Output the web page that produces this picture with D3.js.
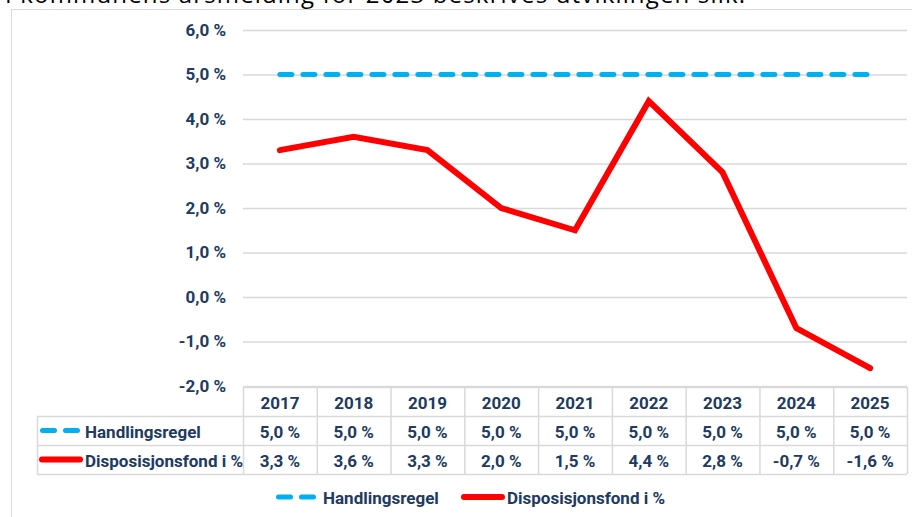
<!DOCTYPE html>
<html>
<head>
<meta charset="utf-8">
<script src="https://cdn.jsdelivr.net/npm/d3@7"></script>
<style>
  body { margin: 0; background: #fff; }
  svg { display: block; }
</style>
</head>
<body>
<div id="chart"></div>
<script>
// data
const years = ['2017', '2018', '2019', '2020', '2021', '2022', '2023', '2024', '2025'];
const handlingsregel = [5.0, 5.0, 5.0, 5.0, 5.0, 5.0, 5.0, 5.0, 5.0];
const disposisjonsfond = [3.3, 3.6, 3.3, 2.0, 1.5, 4.4, 2.8, -0.7, -1.6];
const yTicks = [-2, -1, 0, 1, 2, 3, 4, 5, 6];
const seriesNames = ['Handlingsregel', 'Disposisjonsfond i %'];

const W = 912, H = 517;
const navy = '#203a62';
const grid = '#d9d9d9';
const blue = '#00b0f0';
const red = '#ff0000';
const font = 'Roboto, sans-serif';
const fontSize = 17;

// "5,0 %" style, with a plain hyphen for negatives
const fmt = (v) => d3.format('.1f')(v).replace('.', ',').replace('\u2212', '-') + ' %';

const svg = d3.select('#chart').append('svg').attr('width', W).attr('height', H);

// cropped paragraph above the chart
svg.append('text')
  .attr('x', 5).attr('y', 3)
  .attr('font-family', '"Open Sans", sans-serif')
  .attr('font-size', 24)
  .attr('fill', '#000')
  .attr('textLength', 740)
  .text('I kommunens årsmelding for 2023 beskrives utviklingen slik:');

// chart frame
svg.append('rect')
  .attr('x', 11.5).attr('y', 9.5)
  .attr('width', 920).attr('height', 540)
  .attr('fill', 'none').attr('stroke', grid);

const x = d3.scaleBand().domain(years).range([243, 907]).padding(0);
const y = d3.scaleLinear().domain([-2, 6]).range([386, 30]);
const cx = (d) => x(d) + x.bandwidth() / 2;

// y axis with gridlines
const yAxis = d3.axisLeft(y)
  .tickValues(yTicks)
  .tickFormat(fmt)
  .tickSizeInner(-(907 - 243))
  .tickSizeOuter(0)
  .tickPadding(17);

const yAxisGroup = svg.append('g')
  .attr('transform', 'translate(243,0)')
  .call(yAxis);
yAxisGroup.select('.domain').remove();
yAxisGroup.selectAll('.tick line').attr('stroke', grid).attr('stroke-width', 1.5);
yAxisGroup.selectAll('.tick text')
  .attr('fill', navy)
  .attr('font-family', font)
  .attr('font-weight', 'bold')
  .attr('font-size', fontSize);

// lines
const line = (vals) => d3.line()
  .x((d, i) => cx(years[i]))
  .y((d) => y(d))(vals);

svg.append('path')
  .attr('d', line(handlingsregel))
  .attr('fill', 'none')
  .attr('stroke', blue)
  .attr('stroke-width', 5)
  .attr('stroke-linecap', 'round')
  .attr('stroke-dasharray', '12,11');

svg.append('path')
  .attr('d', line(disposisjonsfond))
  .attr('fill', 'none')
  .attr('stroke', red)
  .attr('stroke-width', 6)
  .attr('stroke-linejoin', 'miter')
  .attr('stroke-linecap', 'round');

// data table
const rowTop = [387, 416, 445];
const rowH = 29;
const tableLeft = 37;
const table = svg.append('g');

// horizontal borders
table.append('line').attr('x1', 243).attr('x2', 907).attr('y1', rowTop[0] + 0.5).attr('y2', rowTop[0] + 0.5);
[rowTop[1], rowTop[2], rowTop[2] + rowH].forEach((yy) => {
  table.append('line').attr('x1', tableLeft).attr('x2', 907).attr('y1', yy + 0.5).attr('y2', yy + 0.5);
});
// vertical borders
table.append('line').attr('x1', tableLeft + 0.5).attr('x2', tableLeft + 0.5).attr('y1', rowTop[1]).attr('y2', rowTop[2] + rowH);
years.concat(['end']).forEach((yr) => {
  const xx = yr === 'end' ? 907 : x(yr);
  table.append('line').attr('x1', xx + 0.5).attr('x2', xx + 0.5).attr('y1', rowTop[0]).attr('y2', rowTop[2] + rowH);
});
table.selectAll('line').attr('stroke', grid).attr('stroke-width', 1.5);

const cellText = (g, tx, ty, txt, anchor) => g.append('text')
  .attr('x', tx).attr('y', ty)
  .attr('text-anchor', anchor || 'middle')
  .attr('dominant-baseline', 'central')
  .attr('fill', navy)
  .attr('font-family', font)
  .attr('font-weight', 'bold')
  .attr('font-size', fontSize)
  .text(txt);

years.forEach((yr, i) => {
  cellText(table, cx(yr), rowTop[0] + rowH / 2 + 1, yr);
  cellText(table, cx(yr), rowTop[1] + rowH / 2 + 1, fmt(handlingsregel[i]));
  cellText(table, cx(yr), rowTop[2] + rowH / 2 + 1, fmt(disposisjonsfond[i]));
});

// legend keys
function dashKey(g, x0, yy) {
  g.append('line')
    .attr('x1', x0 + 2.5).attr('x2', x0 + 40)
    .attr('y1', yy).attr('y2', yy)
    .attr('stroke', blue).attr('stroke-width', 5)
    .attr('stroke-linecap', 'round')
    .attr('stroke-dasharray', '12,11');
}
function solidKey(g, x0, yy) {
  g.append('line')
    .attr('x1', x0 + 3).attr('x2', x0 + 41)
    .attr('y1', yy).attr('y2', yy)
    .attr('stroke', red).attr('stroke-width', 6)
    .attr('stroke-linecap', 'round');
}

dashKey(table, 40, rowTop[1] + rowH / 2);
cellText(table, 85, rowTop[1] + rowH / 2 + 1, seriesNames[0], 'start');
solidKey(table, 39, rowTop[2] + rowH / 2);
cellText(table, 85, rowTop[2] + rowH / 2 + 1, seriesNames[1], 'start');

// bottom legend
const legend = svg.append('g');
dashKey(legend, 276, 497);
cellText(legend, 323, 498, seriesNames[0], 'start');
solidKey(legend, 461, 497);
cellText(legend, 507, 498, seriesNames[1], 'start');
</script>
</body>
</html>
